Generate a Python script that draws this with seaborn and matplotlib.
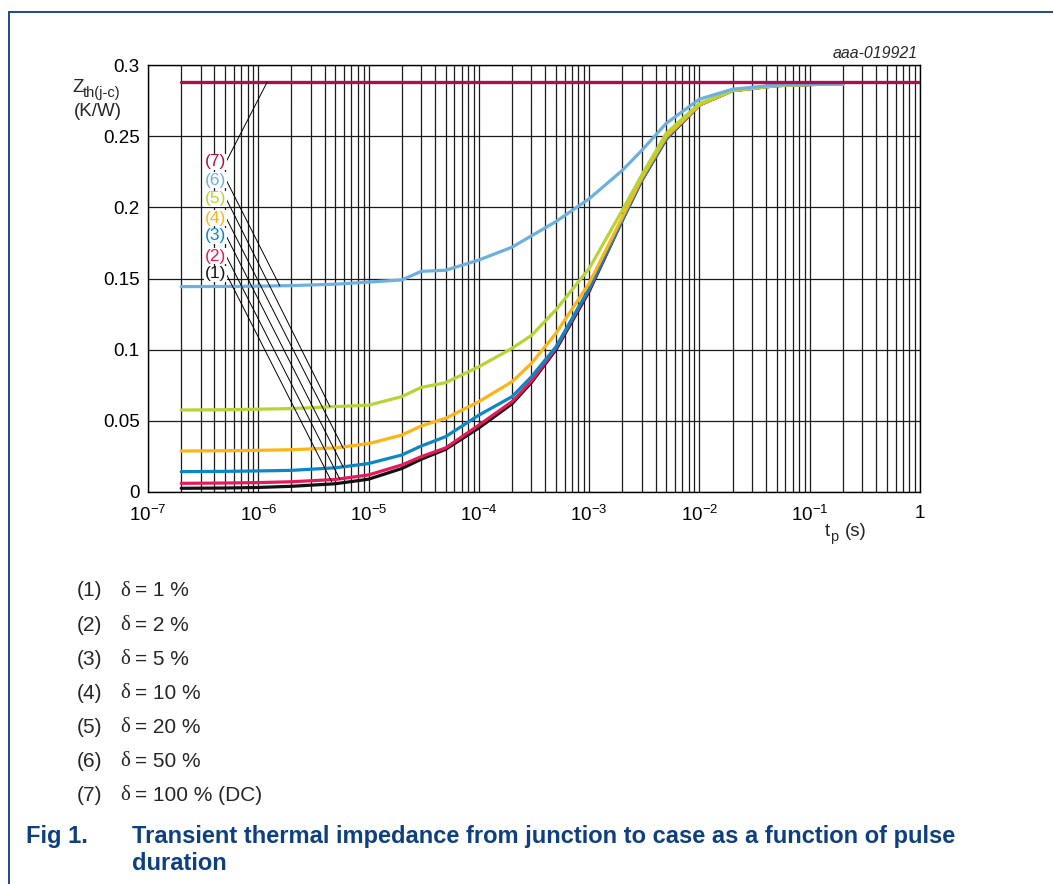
import numpy as np
import pandas as pd
import matplotlib
matplotlib.use("Agg")
import matplotlib.pyplot as plt
import seaborn as sns
from matplotlib.ticker import LogLocator, NullFormatter

# ---------------- data ----------------
t_p = [2e-7, 5e-7, 1e-6, 2e-6, 5e-6, 1e-5, 2e-5, 3e-5, 5e-5, 1e-4, 2e-4, 3e-4,
       5e-4, 1e-3, 2e-3, 3e-3, 5e-3, 1e-2, 2e-2, 5e-2, 1e-1, 2e-1]

z_d1 = [0.0026, 0.0028, 0.0032, 0.0040, 0.0058, 0.0090, 0.0165, 0.0230, 0.0300, 0.0450, 0.0620, 0.0770,
        0.1000, 0.1410, 0.1910, 0.2190, 0.2480, 0.2720, 0.2820, 0.2855, 0.2863, 0.2866]
z_d2 = [0.0061, 0.0063, 0.0066, 0.0072, 0.0088, 0.0120, 0.0190, 0.0248, 0.0310, 0.0470, 0.0635, 0.0780,
        0.1010, 0.1420, 0.1910, 0.2190, 0.2480, 0.2720, 0.2820, 0.2855, 0.2863, 0.2866]
z_d5 = [0.0143, 0.0145, 0.0148, 0.0152, 0.0170, 0.0200, 0.0260, 0.0323, 0.0389, 0.0540, 0.0670, 0.0810,
        0.1020, 0.1430, 0.1910, 0.2190, 0.2480, 0.2720, 0.2820, 0.2855, 0.2863, 0.2866]
z_d10 = [0.0288, 0.0290, 0.0293, 0.0297, 0.0310, 0.0340, 0.0400, 0.0464, 0.0518, 0.0635, 0.0775, 0.0904,
         0.1115, 0.1466, 0.1930, 0.2206, 0.2496, 0.2720, 0.2820, 0.2855, 0.2863, 0.2866]
z_d20 = [0.0576, 0.0578, 0.0582, 0.0586, 0.0600, 0.0610, 0.0670, 0.0735, 0.0768, 0.0880, 0.1010, 0.1100,
         0.1280, 0.1570, 0.1980, 0.2227, 0.2520, 0.2730, 0.2820, 0.2855, 0.2863, 0.2866]
z_d50 = [0.1443, 0.1444, 0.1446, 0.1450, 0.1460, 0.1475, 0.1490, 0.1550, 0.1558, 0.1630, 0.1720, 0.1800,
         0.1900, 0.2060, 0.2260, 0.2400, 0.2590, 0.2760, 0.2830, 0.2860, 0.2864, 0.2866]
dc_t = [2e-7, 1.0]
dc_z = [0.2878, 0.2878]

curve_ids = ["(1)", "(2)", "(3)", "(4)", "(5)", "(6)"]
curve_vals = [z_d1, z_d2, z_d5, z_d10, z_d20, z_d50]
curve_colors = ["#111111", "#e8185c", "#0b86c6", "#fdb515", "#b6d433", "#6db0e0"]
dc_color = "#a8114e"

legend_ids = ["(1)", "(2)", "(3)", "(4)", "(5)", "(6)", "(7)"]
legend_texts = ["= 1 %", "= 2 %", "= 5 %", "= 10 %", "= 20 %", "= 50 %", "= 100 % (DC)"]

xtick_vals = [1e-7, 1e-6, 1e-5, 1e-4, 1e-3, 1e-2, 1e-1, 1]
xtick_labels = ["$10^{-7}$", "$10^{-6}$", "$10^{-5}$", "$10^{-4}$", "$10^{-3}$",
                "$10^{-2}$", "$10^{-1}$", "1"]
ytick_vals = [0, 0.05, 0.1, 0.15, 0.2, 0.25, 0.3]
ytick_labels = ["0", "0.05", "0.1", "0.15", "0.2", "0.25", "0.3"]

# annotation labels (label position) and leader-line targets on the curves
ann_ids = ["(7)", "(6)", "(5)", "(4)", "(3)", "(2)", "(1)"]
ann_colors = [dc_color, "#6db0e0", "#b6d433", "#fdb515", "#0b86c6", "#e8185c", "#111111"]
ann_label_t = 4.1e-7
ann_label_z = [0.2321, 0.2192, 0.2059, 0.1925, 0.1799, 0.1658, 0.1532]
ann_target_t = [1.2e-6, 1.57e-6, 4.47e-6, 5.9e-6, 5.9e-6, 5.5e-6, 4.63e-6]
ann_target_z = [0.2878, 0.1447, 0.0599, 0.0307, 0.0174, 0.0089, 0.0072]

# ---------------- style ----------------
sns.set_theme(style="white")
plt.rcParams["font.family"] = ["Liberation Sans", "DejaVu Sans"]
plt.rcParams["mathtext.fontset"] = "custom"
plt.rcParams["mathtext.rm"] = "Liberation Sans"
plt.rcParams["mathtext.it"] = "Liberation Sans:italic"
plt.rcParams["mathtext.bf"] = "Liberation Sans:bold"

W, H = 1053, 884
fig = plt.figure(figsize=(W / 100, H / 100), dpi=100)
fx = lambda x: x / W
fy = lambda y: 1 - y / H

ax = fig.add_axes([fx(148), fy(492), (920 - 148) / W, (492 - 65) / H])

df = pd.DataFrame({
    "t": np.tile(t_p, len(curve_ids)),
    "z": np.concatenate(curve_vals),
    "curve": np.repeat(curve_ids, len(t_p)),
})
sns.lineplot(data=df, x="t", y="z", hue="curve", hue_order=curve_ids,
             palette=dict(zip(curve_ids, curve_colors)), estimator=None,
             sort=False, linewidth=2.3, legend=False, ax=ax, zorder=3)
sns.lineplot(x=dc_t, y=dc_z, color=dc_color, linewidth=2.4, ax=ax, zorder=4)

ax.set_xscale("log")
ax.set_xlim(1e-7, 1)
ax.set_ylim(0, 0.3)
ax.set_xticks(xtick_vals, xtick_labels)
ax.xaxis.set_minor_locator(LogLocator(base=10, subs=np.arange(2, 10), numticks=100))
ax.xaxis.set_minor_formatter(NullFormatter())
ax.set_yticks(ytick_vals, ytick_labels)
ax.grid(which="both", color="#1a1a1a", linewidth=0.9)
ax.set_axisbelow(True)
ax.tick_params(axis="both", which="both", length=0, labelsize=13.5, colors="black")
ax.tick_params(axis="x", pad=9)
ax.tick_params(axis="y", pad=6)
ax.set_xlabel("")
ax.set_ylabel("")
for s in ax.spines.values():
    s.set_color("black")
    s.set_linewidth(1.0)

# curve labels with leader lines
for lid, col, lz, tt, tz in zip(ann_ids, ann_colors, ann_label_z, ann_target_t, ann_target_z):
    ax.annotate(lid, xy=(tt, tz), xytext=(ann_label_t, lz), textcoords="data",
                ha="center", va="center", fontsize=12.5, color=col,
                bbox=dict(facecolor="white", edgecolor="none", pad=0.4),
                arrowprops=dict(arrowstyle="-", color="black", lw=0.7,
                                shrinkA=0, shrinkB=0, relpos=(1, 0.5)),
                zorder=5)

# axis titles
fig.text(fx(72), fy(87), "Z", fontsize=13.5, ha="left", va="center")
fig.text(fx(83), fy(93), "th(j-c)", fontsize=10.5, ha="left", va="center")
fig.text(fx(98), fy(112), "(K/W)", fontsize=13.5, ha="center", va="center")
fig.text(fx(825), fy(531), "t", fontsize=13.5, ha="left", va="center")
fig.text(fx(830), fy(537), "p", fontsize=10.5, ha="left", va="center")
fig.text(fx(845), fy(532), "(s)", fontsize=13.5, ha="left", va="center")
fig.text(fx(918), fy(53), "aaa-019921", fontsize=11.4, style="italic", ha="right", va="center")

# legend text below chart
for i, (lid, txt) in enumerate(zip(legend_ids, legend_texts)):
    yy = 591 + i * 34.1
    fig.text(fx(77), fy(yy), lid, fontsize=15, ha="left", va="center")
    fig.text(fx(120), fy(yy), "\u03b4", fontsize=15, family="Liberation Serif", ha="left", va="center")
    fig.text(fx(135), fy(yy), txt, fontsize=15, ha="left", va="center")

# caption
cap_col = "#0e3f7e"
fig.text(fx(26), fy(837), "Fig 1.", fontsize=17, weight="bold", color=cap_col, ha="left", va="center")
fig.text(fx(132), fy(837), "Transient thermal impedance from junction to case as a function of pulse",
         fontsize=17, weight="bold", color=cap_col, ha="left", va="center")
fig.text(fx(132), fy(864), "duration", fontsize=17, weight="bold", color=cap_col, ha="left", va="center")

# page frame lines
border_col = "#1f4a87"
fig.add_artist(plt.Line2D([fx(9), 1], [fy(12), fy(12)], color=border_col, lw=1.4))
fig.add_artist(plt.Line2D([fx(9), fx(9)], [fy(12), 0], color=border_col, lw=1.4))

fig.savefig("out.png", dpi=100)
